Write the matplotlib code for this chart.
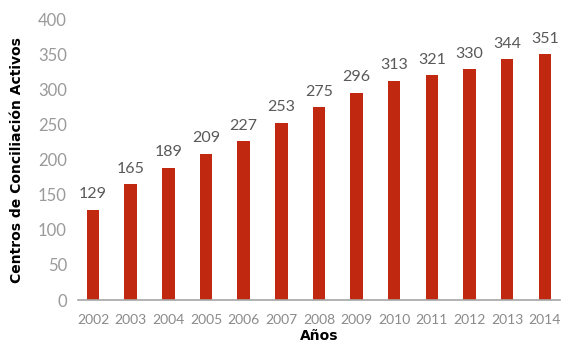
import numpy as np
import matplotlib.pyplot as plt

years = ['2002', '2003', '2004', '2005', '2006', '2007', '2008',
         '2009', '2010', '2011', '2012', '2013', '2014']
centros = [129, 165, 189, 209, 227, 253, 275, 296, 313, 321, 330, 344, 351]

plt.rcParams['font.family'] = ['Lato', 'DejaVu Sans']

fig = plt.figure(figsize=(5.63, 3.45), dpi=100)
ax = fig.add_axes([0.1385, 0.1304, 0.856, 0.812])

x = np.arange(len(years))
ax.bar(x, centros, width=0.33, color='#C0290F')

for xi, v in zip(x, centros):
    ax.annotate(str(v), (xi, v), xytext=(0, 6), textcoords='offset points',
                ha='center', va='bottom', fontsize=11.5, color='#595959')

ax.set_xlim(-0.4, len(years) - 0.6)
ax.set_ylim(0, 400)
ax.set_yticks(np.arange(0, 401, 50))
ax.set_xticks(x)
ax.set_xticklabels(years)
ax.tick_params(axis='y', length=0, labelsize=12, labelcolor='#9a9a9a', pad=8)
ax.tick_params(axis='x', length=0, labelsize=10, labelcolor='#8a8a8a', pad=10)

for s in ['top', 'right', 'left']:
    ax.spines[s].set_visible(False)
ax.spines['bottom'].set_color('#a6a6a6')
ax.spines['bottom'].set_linewidth(1.2)

ax.set_ylabel('Centros de Conciliación Activos', fontsize=10, fontweight='bold',
              color='black', labelpad=10, family=['DejaVu Sans'])
ax.set_xlabel('Años', fontsize=10, fontweight='bold', color='black', labelpad=2,
              family=['DejaVu Sans'])

fig.savefig('out.png', dpi=100)
